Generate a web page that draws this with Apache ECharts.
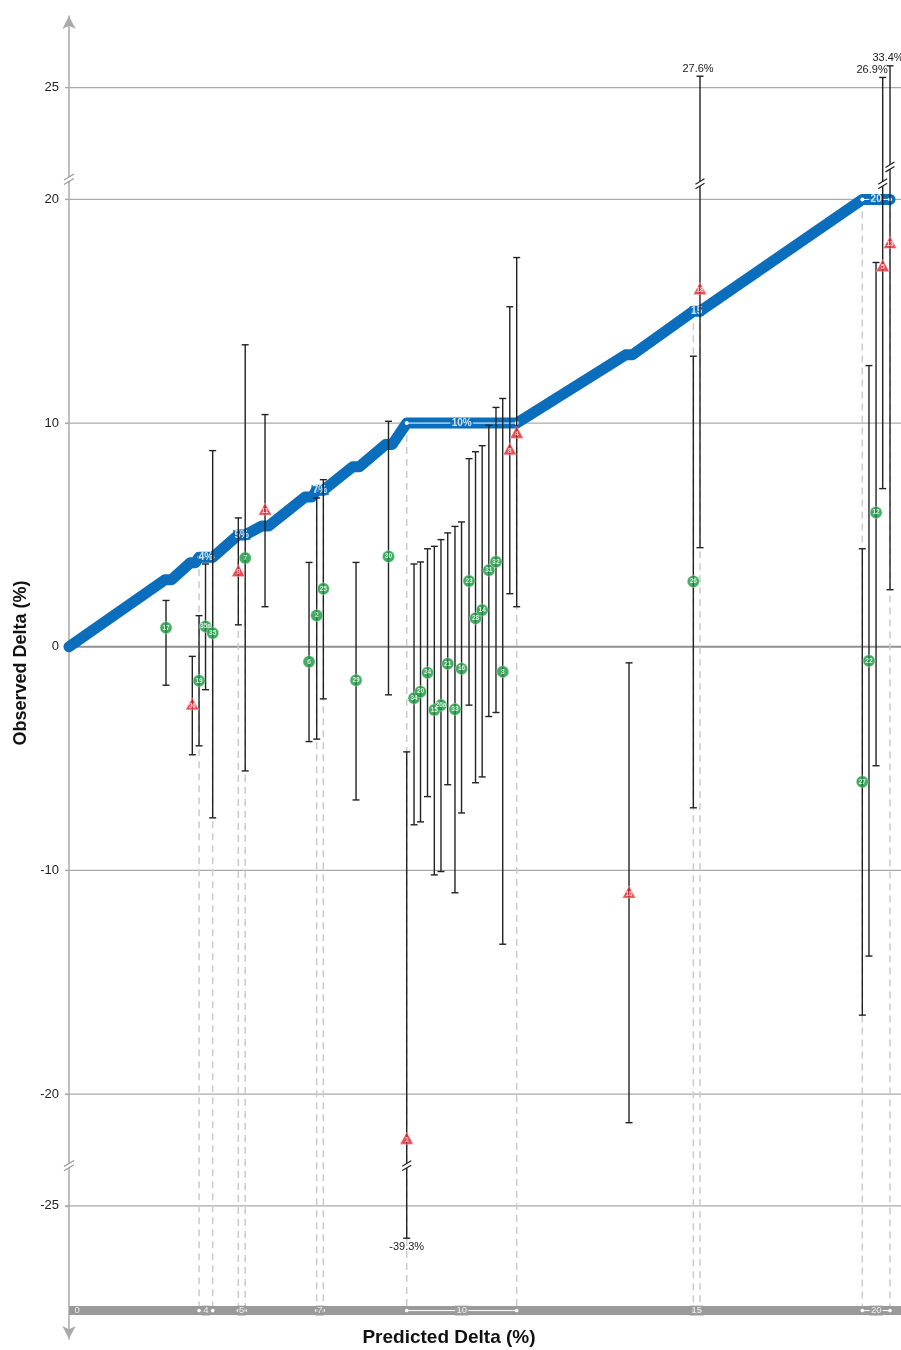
<!DOCTYPE html>
<html><head><meta charset="utf-8">
<script src="https://cdn.jsdelivr.net/npm/echarts@6/dist/echarts.min.js"></script>
<style>html,body{margin:0;padding:0;background:#fff}#chart{width:901px;height:1350px}</style>
</head><body><div id="chart"></div>
<script>
// ---- data ----
// study positions along the ordering axis (0–100)
const studyPos = [11.66,14.82,15.63,16.41,17.27,20.35,21.18,23.56,28.85,29.77,30.57,34.50,38.40,40.59,41.47,42.25,43.09,43.91,44.71,45.52,46.39,47.18,48.08,48.86,49.66,50.46,51.32,52.13,52.98,53.81,67.31,75.04,75.84,95.35,96.15,97.00,97.80,98.68];
const studyLabel = ['17','36','19','35a','35','9','7','11','6','2','25','29','30','1','34','20','24','15','26a','21','33','16','23','28','14','31','32','3','8','4','10','26','18','27','22','12','5','13'];
const studyType = ['c','t','c','c','c', 't','c','t', 'c','c','c','c','c', 't', 'c','c','c','c','c','c','c','c', 'c','c','c','c','c','c', 't','t','t', 'c','t', 'c','c','c','t','t'];
const observed = [0.85,-2.55,-1.52,0.91,0.61,3.41,3.97,6.16,-0.67,1.40,2.59,-1.50,4.03,-21.97,-2.30,-2.01,-1.16,-2.83,-2.61,-0.76,-2.80,-0.98,2.94,1.27,1.64,3.42,3.80,-1.12,8.85,9.59,-10.96,2.92,16.02,-6.04,-0.63,6.00,17.05,18.08];
const ciLow = [-1.72,-4.83,-4.43,-1.92,-7.65,0.98,-5.55,1.79,-4.24,-4.13,-2.33,-6.85,-2.15,-39.3,-7.96,-7.83,-6.70,-10.20,-10.05,-6.17,-11.00,-7.43,-2.61,-6.08,-5.82,-3.12,-2.94,-13.30,2.37,1.79,-21.28,-7.20,4.43,-16.47,-13.83,-5.32,7.07,2.55];
const ciHigh = [2.07,-0.43,1.39,3.70,8.77,5.76,13.50,10.38,3.77,6.65,7.47,3.77,10.08,-4.70,3.70,3.79,4.38,4.49,4.79,5.09,5.38,5.58,8.41,8.72,8.99,9.90,10.70,11.10,15.20,17.40,-0.72,12.99,27.6,4.38,12.57,17.18,26.9,33.4];
// predicted-delta line
const lineX = [0,11.54,12.34,14.6,15.2,15.63,17.27,20.35,21.18,23.2,24.0,28.4,29.2,29.77,30.57,34.1,34.9,38.05,38.85,40.59,53.81,66.9,67.7,75.04,75.84,95.35,98.68];
const lineY = [0,3.0,3.0,3.76,3.76,4,4,5,5,5.4,5.4,6.7,6.7,7,7,8.05,8.05,9.04,9.04,10,10,13.05,13.05,15,15,20,20];
// predicted-value groups
const rangeValue = [4,5,7,10,15,20];
const rangeStart = [15.63,20.35,29.77,40.59,75.04,95.35];
const rangeEnd = [17.27,21.18,30.57,53.81,75.84,98.68];
const rangeLineLabel = ['4%','5%','7%','10%','15','20'];
const xTickLabels = ['0','4','5','7','10','15','20'];
const yTicks = [-25,-20,-10,0,10,20,25];
const yBreaks = [20.9,-23.2];

// ---- styling constants ----
const FONT = '"Liberation Sans", Arial, Helvetica, sans-serif';
const BAR_Y = -29.68;
const BLUE = '#0a6ebd';
const GREEN = '#17963f';
const RED = '#e4222a';

function disp(v){ const a=Math.abs(v); return a<=25 ? v : Math.sign(v)*(25.3+0.08*(a-25)); }
function breakMark(cx, cy, color, w){
  const s = 0.6*w;
  return [
    {type:'rect', shape:{x:cx-2, y:cy-2.2, width:4, height:4.4}, style:{fill:'#fff'}},
    {type:'line', shape:{x1:cx-w, y1:cy+2.2+s, x2:cx+w, y2:cy+2.2-s}, style:{stroke:color, lineWidth:1.2}},
    {type:'line', shape:{x1:cx-w, y1:cy-2.2+s, x2:cx+w, y2:cy-2.2-s}, style:{stroke:color, lineWidth:1.2}}
  ];
}
function txt(text, x, y, align, valign, font, fill){
  return {type:'text', style:{text, x, y, font, fill, align, verticalAlign:valign, textAlign:align, textVerticalAlign:valign}};
}

const chart = echarts.init(document.getElementById('chart'));
const option = {
  animation:false,
  backgroundColor:'#fff',
  grid:{left:69, right:0, top:16, bottom:11, containLabel:false},
  xAxis:{type:'value', min:0, max:100, show:false},
  yAxis:{type:'value', min:-30.95, max:28.2,
    axisLine:{show:true, onZero:false, symbol:['arrow','arrow'], symbolSize:[10,13], lineStyle:{color:'#aaa', width:1.5}},
    axisTick:{show:true, customValues:yTicks, length:4, lineStyle:{color:'#aaa', width:1.3}},
    axisLabel:{customValues:yTicks, fontSize:13, color:'#222', margin:10, fontFamily:FONT},
    splitLine:{show:false}
  },
  graphic:[
    {type:'text', x:449, y:1338, style:{text:'Predicted Delta (%)', font:'bold 19px '+FONT, fill:'#111', align:'center', verticalAlign:'middle', textAlign:'center', textVerticalAlign:'middle'}},
    {type:'text', x:21, y:663, rotation:Math.PI/2, style:{text:'Observed Delta (%)', font:'bold 18px '+FONT, fill:'#111', align:'center', verticalAlign:'middle', textAlign:'center', textVerticalAlign:'middle'}}
  ],
  series:[
    { // horizontal grid lines
      type:'custom', z:1, silent:true,
      data: yTicks.map(v=>[0,v]),
      renderItem:(p,api)=>{ const v=api.value(1); const a=api.coord([0,v]), b=api.coord([100,v]);
        return {type:'line', shape:{x1:a[0]-4,y1:a[1],x2:b[0],y2:b[1]}, style:{stroke:v===0?'#909090':'#ababab', lineWidth:v===0?2:1.3}}; }
    },
    { // dashed group boundaries
      type:'custom', z:2, silent:true,
      data: rangeValue.flatMap((v,i)=>[[rangeStart[i],v],[rangeEnd[i],v]]),
      renderItem:(p,api)=>{ const x=api.value(0), v=api.value(1); const a=api.coord([x,v]), b=api.coord([x,BAR_Y]);
        return {type:'line', shape:{x1:a[0],y1:a[1],x2:b[0],y2:b[1]-4}, style:{stroke:'#cbcbcb', lineWidth:1.5, lineDash:[7,5]}}; }
    },
    { // x-axis bar
      type:'line', z:3, silent:true, clip:false, showSymbol:false,
      data:[[0,BAR_Y],[100,BAR_Y]],
      lineStyle:{color:'#9a9a9a', width:9, cap:'butt'}
    },
    { // white range lines and dots on bar
      type:'custom', z:4, silent:true,
      data: rangeValue.map((v,i)=>[rangeStart[i],rangeEnd[i]]),
      renderItem:(p,api)=>{ const s=api.value(0), e=api.value(1); const a=api.coord([s,BAR_Y]), b=api.coord([e,BAR_Y]);
        const ch=[];
        if (e-s>3) ch.push({type:'line', shape:{x1:a[0],y1:a[1],x2:b[0],y2:b[1]}, style:{stroke:'#fff', lineWidth:1}});
        ch.push({type:'circle', shape:{cx:a[0],cy:a[1],r:1.8}, style:{fill:'#fff'}});
        ch.push({type:'circle', shape:{cx:b[0],cy:b[1],r:1.8}, style:{fill:'#fff'}});
        return {type:'group', children:ch}; }
    },
    { // bar labels
      type:'scatter', z:5, silent:true, symbolSize:1, itemStyle:{color:'rgba(0,0,0,0)'},
      data: xTickLabels.map((t,i)=>{
        const x = i===0 ? 0 : (rangeStart[i-1]+rangeEnd[i-1])/2;
        return i===0 ? {value:[x,BAR_Y], name:t, label:{align:'left', offset:[4,0], backgroundColor:'transparent'}} : {value:[x,BAR_Y], name:t};
      }),
      label:{show:true, position:'inside', formatter:p=>p.name, color:'#fff', fontSize:9.5, fontFamily:FONT, backgroundColor:'#9a9a9a', padding:[0,1.5]}
    },
    { // predicted delta line
      type:'line', z:6, silent:true, clip:false, showSymbol:false,
      data: lineX.map((x,i)=>[x,lineY[i]]),
      lineStyle:{color:BLUE, width:11, cap:'round', join:'round'}
    },
    { // white range lines on predicted line
      type:'custom', z:7, silent:true,
      data: rangeValue.map((v,i)=>[rangeStart[i],rangeEnd[i],v]),
      renderItem:(p,api)=>{ const s=api.value(0), e=api.value(1), v=api.value(2); const a=api.coord([s,v]), b=api.coord([e,v]);
        return {type:'group', children:[
          {type:'line', shape:{x1:a[0],y1:a[1],x2:b[0],y2:b[1]}, style:{stroke:'#fff', lineWidth:1}},
          {type:'circle', shape:{cx:a[0],cy:a[1],r:2}, style:{fill:'#fff'}},
          {type:'circle', shape:{cx:b[0],cy:b[1],r:2}, style:{fill:'#fff'}}]}; }
    },
    { // range labels on predicted line
      type:'scatter', z:8, silent:true, symbolSize:1, itemStyle:{color:'rgba(0,0,0,0)'},
      data: rangeValue.map((v,i)=>({value:[(rangeStart[i]+rangeEnd[i])/2, v], name:rangeLineLabel[i]})),
      label:{show:true, position:'inside', formatter:p=>p.name, color:'#fff', fontSize:10, fontWeight:'bold', fontFamily:FONT, backgroundColor:BLUE, padding:[0,1.5]}
    },
    { // y-axis breaks
      type:'custom', z:9, silent:true, clip:false,
      data: yBreaks.map(v=>[0,v]),
      renderItem:(p,api)=>{ const c=api.coord([0,api.value(1)]); return {type:'group', children:breakMark(c[0],c[1],'#9a9a9a',5)}; }
    },
    { // error bars
      type:'custom', z:10, silent:true, clip:false,
      data: studyPos.map((x,i)=>[x, ciLow[i], ciHigh[i], i]),
      renderItem:(p,api)=>{
        const x=api.value(0), lo=api.value(1), hi=api.value(2), i=api.value(3);
        const a=api.coord([x,disp(lo)]), b=api.coord([x,disp(hi)]);
        const cw=3.5, col='#222';
        let ch=[
          {type:'line', shape:{x1:a[0],y1:a[1],x2:b[0],y2:b[1]}, style:{stroke:col, lineWidth:1.4}},
          {type:'line', shape:{x1:a[0]-cw,y1:a[1],x2:a[0]+cw,y2:a[1]}, style:{stroke:col, lineWidth:1.4}},
          {type:'line', shape:{x1:b[0]-cw,y1:b[1],x2:b[0]+cw,y2:b[1]}, style:{stroke:col, lineWidth:1.4}}
        ];
        const f = '11px '+FONT;
        if (hi>25){
          const stag = (i>0 && ciHigh[i-1]>25 && studyPos[i]-studyPos[i-1]<1.5) ? 0.75 : 0;
          const c=api.coord([x,20.7+stag]);
          ch = ch.concat(breakMark(c[0],c[1],col,4.5));
          const nextBroken = (i<ciHigh.length-1 && ciHigh[i+1]>25 && studyPos[i+1]-studyPos[i]<1.5);
          ch.push(nextBroken ? txt(hi.toFixed(1)+'%', b[0]+5, b[1]-2, 'right','bottom', f, '#222')
                             : txt(hi.toFixed(1)+'%', b[0]-2, b[1]-2, 'center','bottom', f, '#222'));
        }
        if (lo<-25){
          const c=api.coord([x,-23.2]);
          ch = ch.concat(breakMark(c[0],c[1],col,4.5));
          ch.push(txt(lo.toFixed(1)+'%', a[0], a[1]+3, 'center','top', f, '#222'));
        }
        return {type:'group', children:ch};
      }
    },
    { // study markers
      type:'scatter', z:11, silent:true, clip:false,
      data: studyPos.map((x,i)=>{
        const t = studyType[i]==='t';
        return {value:[x,observed[i]], name:studyLabel[i], symbol:t?'triangle':'circle', symbolSize:t?[13,12]:12,
          itemStyle:{color:t?RED:GREEN, borderColor:t?'#f7c9ca':'#bfe3c9', borderWidth:0.6},
          label:{offset:t?[0,2]:[0,0]}};
      }),
      label:{show:true, position:'inside', formatter:p=>p.name, color:'#fff', fontSize:6.5, fontWeight:'bold', fontFamily:FONT}
    }
  ]
};
chart.setOption(option);
</script></body></html>
